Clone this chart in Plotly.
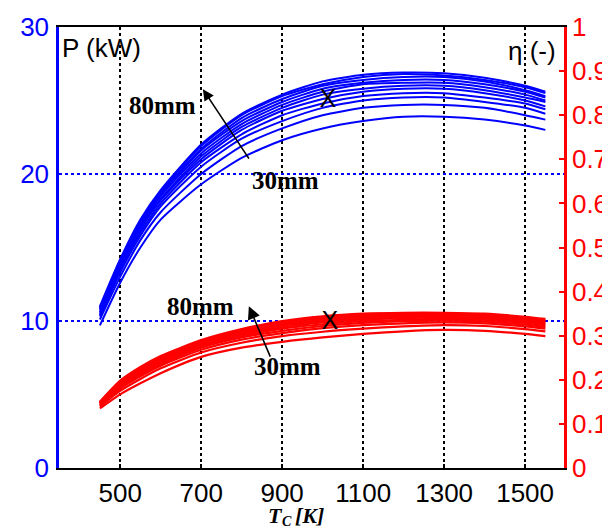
import plotly.graph_objects as go

# Cold-side temperature T_C [K]
T_C = [450, 500, 550, 600, 700, 800, 900, 1000, 1100, 1200, 1300, 1400, 1500, 1550]

# Thickness labels (mm)
thickness_mm = [30, 35, 40, 45, 50, 55, 60, 65, 70, 75, 80]

# Power P (kW), one list per thickness
P_30 = [9.7, 12.6, 15.0, 16.9, 19.3, 21.1, 22.3, 23.1, 23.6, 23.9, 23.9, 23.7, 23.3, 23.0]
P_35 = [10.1, 13.0, 15.5, 17.4, 20.0, 21.9, 23.1, 24.0, 24.5, 24.7, 24.7, 24.5, 24.0, 23.7]
P_40 = [10.3, 13.3, 15.8, 17.8, 20.5, 22.4, 23.6, 24.5, 25.0, 25.2, 25.2, 24.9, 24.5, 24.1]
P_45 = [10.4, 13.5, 16.0, 18.0, 20.8, 22.7, 24.0, 24.8, 25.3, 25.5, 25.5, 25.2, 24.8, 24.4]
P_50 = [10.5, 13.6, 16.2, 18.2, 21.0, 23.0, 24.3, 25.1, 25.6, 25.8, 25.8, 25.5, 25.0, 24.6]
P_55 = [10.6, 13.7, 16.4, 18.3, 21.2, 23.2, 24.5, 25.4, 25.8, 26.0, 26.0, 25.7, 25.2, 24.9]
P_60 = [10.7, 13.9, 16.5, 18.5, 21.4, 23.4, 24.7, 25.6, 26.1, 26.2, 26.2, 25.9, 25.4, 25.0]
P_65 = [10.8, 13.9, 16.6, 18.6, 21.6, 23.6, 24.9, 25.8, 26.2, 26.4, 26.4, 26.1, 25.6, 25.2]
P_70 = [10.9, 14.0, 16.7, 18.7, 21.7, 23.8, 25.1, 26.0, 26.4, 26.6, 26.6, 26.3, 25.7, 25.3]
P_75 = [10.9, 14.1, 16.8, 18.8, 21.9, 24.0, 25.3, 26.1, 26.6, 26.8, 26.7, 26.4, 25.9, 25.5]
P_80 = [11.0, 14.2, 16.9, 18.9, 22.0, 24.1, 25.4, 26.3, 26.75, 26.9, 26.85, 26.55, 26.0, 25.6]

# Efficiency eta (-), one list per thickness
E_30 = [0.135, 0.167, 0.192, 0.215, 0.252, 0.273, 0.286, 0.296, 0.304, 0.310, 0.313, 0.311, 0.304, 0.299]
E_35 = [0.139, 0.175, 0.202, 0.226, 0.262, 0.284, 0.299, 0.309, 0.316, 0.321, 0.324, 0.322, 0.315, 0.310]
E_40 = [0.141, 0.180, 0.208, 0.232, 0.268, 0.291, 0.306, 0.317, 0.324, 0.328, 0.330, 0.328, 0.321, 0.316]
E_45 = [0.143, 0.184, 0.212, 0.236, 0.273, 0.296, 0.311, 0.322, 0.329, 0.333, 0.334, 0.332, 0.325, 0.320]
E_50 = [0.144, 0.187, 0.215, 0.240, 0.276, 0.299, 0.316, 0.326, 0.333, 0.336, 0.338, 0.336, 0.329, 0.324]
E_55 = [0.146, 0.189, 0.218, 0.243, 0.279, 0.303, 0.319, 0.330, 0.337, 0.340, 0.341, 0.339, 0.332, 0.327]
E_60 = [0.147, 0.191, 0.221, 0.245, 0.282, 0.306, 0.323, 0.333, 0.340, 0.343, 0.343, 0.341, 0.334, 0.329]
E_65 = [0.148, 0.193, 0.223, 0.248, 0.284, 0.308, 0.325, 0.336, 0.343, 0.345, 0.346, 0.344, 0.337, 0.332]
E_70 = [0.149, 0.195, 0.225, 0.250, 0.286, 0.311, 0.328, 0.339, 0.345, 0.348, 0.348, 0.346, 0.339, 0.334]
E_75 = [0.149, 0.196, 0.227, 0.252, 0.288, 0.313, 0.331, 0.342, 0.348, 0.350, 0.350, 0.348, 0.341, 0.336]
E_80 = [0.150, 0.198, 0.229, 0.254, 0.290, 0.315, 0.333, 0.344, 0.350, 0.352, 0.352, 0.350, 0.343, 0.338]

P_series = [P_30, P_35, P_40, P_45, P_50, P_55, P_60, P_65, P_70, P_75, P_80]
E_series = [E_30, E_35, E_40, E_45, E_50, E_55, E_60, E_65, E_70, E_75, E_80]

# Marked design point "X"
X_T_P, X_P = 1013, 25.0
X_T_E, X_E = 1018, 0.329

x_ticks = [500, 700, 900, 1100, 1300, 1500]
x_ticktext = ["500", "700", "900", "1100", "1300", "1500"]

BLUE = "#0000ff"
RED = "#ff0000"
FONT = "Liberation Sans"
SERIF = "Liberation Serif"

fig = go.Figure()

for mm, ys in zip(thickness_mm, P_series):
    fig.add_trace(go.Scatter(x=T_C, y=ys, mode="lines", name=f"P {mm}mm",
                             line=dict(color=BLUE, width=2, shape="spline", smoothing=0.6),
                             yaxis="y", showlegend=False))
for mm, ys in zip(thickness_mm, E_series):
    fig.add_trace(go.Scatter(x=T_C, y=ys, mode="lines", name=f"eta {mm}mm",
                             line=dict(color=RED, width=2.2, shape="spline", smoothing=0.6),
                             yaxis="y2", showlegend=False))

fig.add_trace(go.Scatter(x=[X_T_P], y=[X_P], mode="text", text=["X"], yaxis="y",
                         textfont=dict(family=FONT, size=25, color="black"),
                         showlegend=False))
fig.add_trace(go.Scatter(x=[X_T_E], y=[X_E], mode="text", text=["X"], yaxis="y2",
                         textfont=dict(family=FONT, size=25, color="black"),
                         showlegend=False))

ann = []
# axis quantity labels inside the frame
ann.append(dict(text="P (kW)", x=0.002, y=0.952, xref="paper", yref="paper",
                xanchor="left", yanchor="middle", showarrow=False,
                font=dict(family=FONT, size=26, color="black")))
ann.append(dict(text="η (-)", x=0.988, y=0.946, xref="paper", yref="paper",
                xanchor="right", yanchor="middle", showarrow=False,
                font=dict(family=FONT, size=26, color="black")))
# thickness labels
lab_font = dict(family=SERIF, size=25, color="black")
for txt, px, py in [("80mm", 0.204, 0.821), ("30mm", 0.4495, 0.653),
                    ("80mm", 0.281, 0.367), ("30mm", 0.4515, 0.231)]:
    ann.append(dict(text=f"<b>{txt}</b>", x=px, y=py, xref="paper", yref="paper",
                    xanchor="center", yanchor="middle", showarrow=False, font=lab_font))
# arrows
ann.append(dict(text="", x=0.285, y=0.859, xref="paper", yref="paper",
                ax=47, ay=71, showarrow=True, arrowhead=2, arrowsize=1.4,
                arrowwidth=1.6, arrowcolor="black"))
ann.append(dict(text="", x=0.376, y=0.367, xref="paper", yref="paper",
                ax=22, ay=52, showarrow=True, arrowhead=2, arrowsize=1.6,
                arrowwidth=1.6, arrowcolor="black"))
# x-axis title: T, subscript C, [K]
ann.append(dict(text="<b><i>T</i></b>", x=0.410, y=-0.1088, xref="paper", yref="paper",
                xanchor="left", yanchor="middle", showarrow=False,
                font=dict(family=SERIF, size=22, color="black")))
ann.append(dict(text="<b><i>C</i></b>", x=0.4376, y=-0.121, xref="paper", yref="paper",
                xanchor="left", yanchor="middle", showarrow=False,
                font=dict(family=SERIF, size=14, color="black")))
ann.append(dict(text="<b><i>[K]</i></b>", x=0.463, y=-0.1088, xref="paper", yref="paper",
                xanchor="left", yanchor="middle", showarrow=False,
                font=dict(family=SERIF, size=22, color="black")))

fig.update_layout(
    width=610, height=529,
    margin=dict(l=51, r=54, t=19, b=69, autoexpand=False),
    paper_bgcolor="white", plot_bgcolor="white",
    showlegend=False,
    annotations=ann,
    xaxis=dict(range=[349, 1596], tickvals=x_ticks, ticktext=x_ticktext,
               automargin=False,
               showgrid=True, gridcolor="black", griddash="dot", gridwidth=1.5,
               showline=True, linecolor="black", linewidth=2, mirror=True,
               ticks="inside", ticklen=4, tickcolor="black", tickwidth=1.5,
               ticklabelstandoff=1,
               tickfont=dict(family=FONT, size=26, color="black"),
               zeroline=False),
    yaxis=dict(range=[0, 30], tickvals=[0, 10, 20, 30], automargin=False,
               showgrid=True, gridcolor=BLUE, griddash="dot", gridwidth=1.5,
               showline=True, linecolor=BLUE, linewidth=2.5,
               ticks="", ticklabelstandoff=2,
               tickfont=dict(family=FONT, size=26, color=BLUE),
               zeroline=False),
    yaxis2=dict(range=[0, 1], dtick=0.1, overlaying="y", side="right",
                automargin=False,
                showgrid=False, showline=True, linecolor=RED, linewidth=2.5,
                ticks="inside", ticklen=5, tickcolor=RED, tickwidth=2,
                ticklabelstandoff=0,
                tickfont=dict(family=FONT, size=26, color=RED),
                zeroline=False),
)

fig.write_html("out.html")
